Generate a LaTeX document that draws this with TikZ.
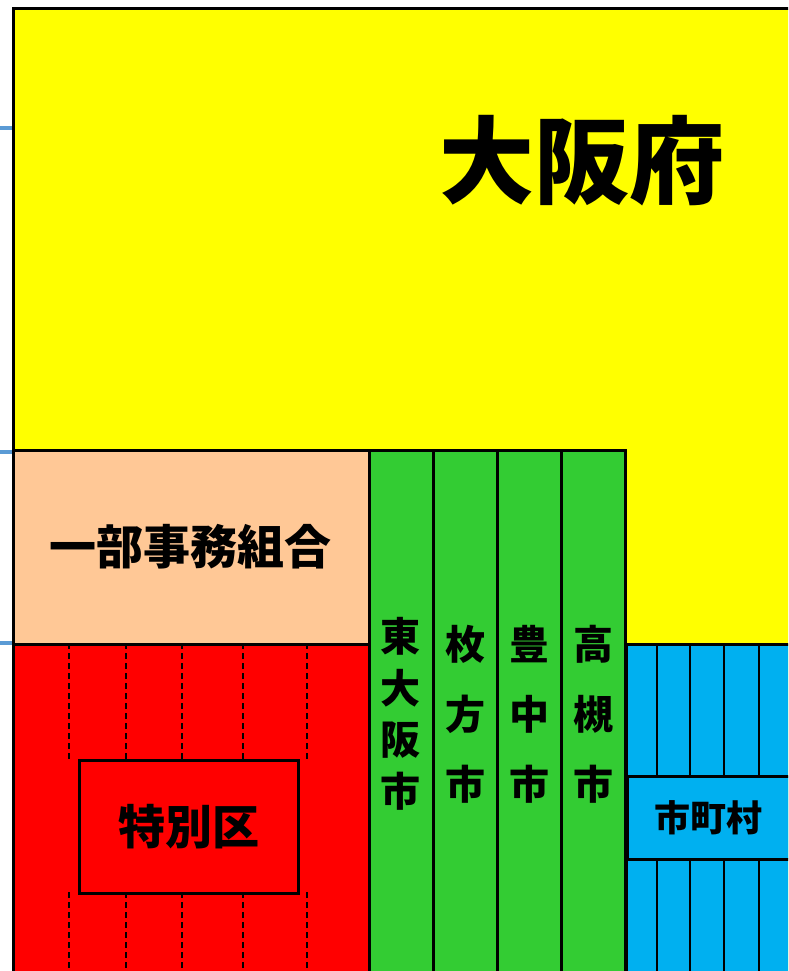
\documentclass[tikz,border=0pt]{standalone}
\usepackage{fontspec}
\newfontfamily\jp{Noto Sans CJK JP}
\definecolor{fuyellow}{RGB}{255,255,0}
\definecolor{peach}{RGB}{255,200,150}
\definecolor{fured}{RGB}{255,0,0}
\definecolor{fugreen}{RGB}{51,204,51}
\definecolor{fublue}{RGB}{0,176,240}
\definecolor{tickblue}{RGB}{91,155,213}
\tikzset{
  area/.style={draw=black, line width=2.8pt, rectangle, anchor=north west, inner sep=0pt},
  lbl/.style={inner sep=0pt, font=\jp\bfseries, text=black, align=center},
  divider/.style={draw=black, line width=2.8pt},
  dashdiv/.style={draw=black, line width=1.1pt, dash pattern=on 6pt off 4pt},
  tickmark/.style={draw=tickblue, line width=4.5pt}
}
\begin{document}
\begin{tikzpicture}[x=1pt,y=-1pt]
\useasboundingbox (0,0) rectangle (788,971);
\clip (0,0) rectangle (788,971);
% prefecture
\node[area, fill=fuyellow, line width=3.2pt, minimum width=900pt, minimum height=1100pt] (pref) at (12,7) {};
\node[lbl, font=\jp\bfseries\fontsize{95}{95}\selectfont] (preftxt) at (582,161) {大阪府};
% partial affairs association
\node[area, fill=peach, minimum width=356pt, minimum height=194pt] (kumiai) at (12,449) {};
\node[lbl, font=\jp\bfseries\fontsize{47}{47}\selectfont] (kumiaitxt) at (190,547) {一部事務組合};
% special wards
\node[area, fill=fured, minimum width=356pt, minimum height=340pt] (ward) at (12,643) {};
\foreach \x in {69,126,182,243,307}{
  \draw[dashdiv] (\x,643) -- (\x,759);
  \draw[dashdiv] (\x,892) -- (\x,975);
}
\node[area, fill=fured, minimum width=219pt, minimum height=133pt] (wardbox) at (78,759) {};
\node[lbl, font=\jp\bfseries\fontsize{47}{47}\selectfont] (wardtxt) at (wardbox.center) {特別区};
% cities (green)
\node[area, fill=fugreen, minimum width=64pt, minimum height=526pt] (c1) at (368,449) {};
\node[area, fill=fugreen, minimum width=64pt, minimum height=526pt] (c2) at (432,449) {};
\node[area, fill=fugreen, minimum width=64pt, minimum height=526pt] (c3) at (496,449) {};
\node[area, fill=fugreen, minimum width=64pt, minimum height=526pt] (c4) at (560,449) {};
\node[lbl, font=\jp\bfseries\fontsize{40}{51.5}\selectfont] (c1txt) at (400,714) {東\\大\\阪\\市};
\node[lbl, font=\jp\bfseries\fontsize{40}{70}\selectfont] (c2txt) at (465,714) {枚\\方\\市};
\node[lbl, font=\jp\bfseries\fontsize{40}{70}\selectfont] (c3txt) at (529,714) {豊\\中\\市};
\node[lbl, font=\jp\bfseries\fontsize{40}{70}\selectfont] (c4txt) at (593,714) {高\\槻\\市};
% municipalities (blue)
\node[area, fill=fublue, minimum width=200pt, minimum height=340pt] (muni) at (625,643) {};
\foreach \x in {657,690,724,759}{
  \draw[divider] (\x,643) -- (\x,775);
  \draw[divider] (\x,858) -- (\x,975);
}
\node[area, fill=fublue, minimum width=180pt, minimum height=83pt] (munibox) at (626,775) {};
\node[lbl, font=\jp\bfseries\fontsize{36}{36}\selectfont] (munitxt) at (708,818) {市町村};
% ticks on the left
\draw[tickmark] (0,128) -- (pref.west |- 0,128);
\draw[tickmark] (0,452) -- (kumiai.west |- 0,452);
\draw[tickmark] (0,643) -- (ward.west |- 0,643);
\end{tikzpicture}
\end{document}
